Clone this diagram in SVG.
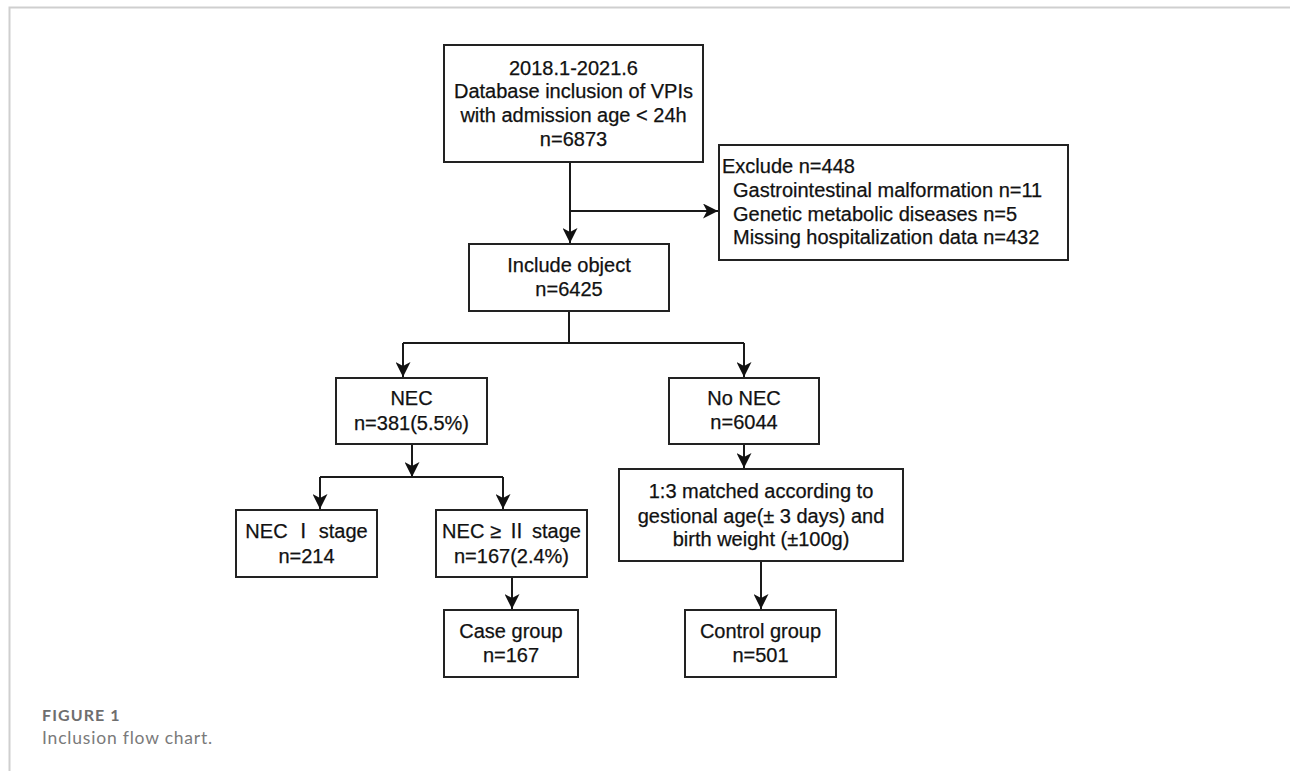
<svg xmlns="http://www.w3.org/2000/svg" width="1290" height="771" viewBox="0 0 1290 771">
<defs>
<style>
.box{fill:#fff;stroke:#222;stroke-width:2}
.t{font-family:"Liberation Sans","Noto Sans CJK SC",Arial,sans-serif;font-size:20px;fill:#111;stroke:#111;stroke-width:0.25;text-anchor:middle}
.tl{font-family:"Liberation Sans","Noto Sans CJK SC",Arial,sans-serif;font-size:20px;fill:#111;stroke:#111;stroke-width:0.25}
.ln{fill:none;stroke:#1a1a1a;stroke-width:2}
.frame{fill:none;stroke:#cfcfcf;stroke-width:2}
.cap1{font-family:Lato,"Open Sans",sans-serif;font-size:16px;font-weight:bold;fill:#6e6e6e;letter-spacing:1.1px}
.cap2{font-family:Lato,"Open Sans",sans-serif;font-size:17.5px;fill:#7a7a7a;letter-spacing:0.8px}
</style>
<marker id="arr" markerWidth="15" markerHeight="15" refX="15" refY="7.5" orient="auto" markerUnits="userSpaceOnUse">
<path d="M0,0 L15,7.5 L0,15 L4,7.5 z" fill="#111"/>
</marker>
</defs>
<rect width="1290" height="771" fill="#fff"/>
<path class="frame" d="M9.5,771 L9.5,7.5 L1290,7.5"/>

<g id="connectors">
<path class="ln" d="M570,162 L570,243" marker-end="url(#arr)"/>
<path class="ln" d="M570,211 L718,211" marker-end="url(#arr)"/>
<path class="ln" d="M569,311 L569,343"/>
<path class="ln" d="M403,343 L744,343"/>
<path class="ln" d="M403,343 L403,377" marker-end="url(#arr)"/>
<path class="ln" d="M744,343 L744,377" marker-end="url(#arr)"/>
<path class="ln" d="M412,444 L412,477" marker-end="url(#arr)"/>
<path class="ln" d="M320,477 L503,477"/>
<path class="ln" d="M320,477 L320,509" marker-end="url(#arr)"/>
<path class="ln" d="M503,477 L503,509" marker-end="url(#arr)"/>
<path class="ln" d="M512,577 L512,609" marker-end="url(#arr)"/>
<path class="ln" d="M744,444 L744,468" marker-end="url(#arr)"/>
<path class="ln" d="M761,561 L761,609" marker-end="url(#arr)"/>
</g>

<g id="n-source">
<rect class="box" x="444" y="45" width="259" height="117"/>
<text class="t" x="573.5" y="75">2018.1-2021.6</text>
<text class="t" x="573.5" y="98">Database inclusion of VPIs</text>
<text class="t" x="573.5" y="122">with admission age &lt; 24h</text>
<text class="t" x="573.5" y="146">n=6873</text>
</g>

<g id="n-exclude">
<rect class="box" x="719" y="145" width="349" height="115"/>
<text class="tl" x="722" y="173">Exclude n=448</text>
<text class="tl" x="733" y="197">Gastrointestinal malformation n=11</text>
<text class="tl" x="733" y="221">Genetic metabolic diseases n=5</text>
<text class="tl" x="733" y="244">Missing hospitalization data n=432</text>
</g>

<g id="n-include">
<rect class="box" x="469" y="244" width="200" height="67"/>
<text class="t" x="569" y="272">Include object</text>
<text class="t" x="569" y="296">n=6425</text>
</g>

<g id="n-nec">
<rect class="box" x="336" y="378" width="151" height="66"/>
<text class="t" x="411.5" y="405">NEC</text>
<text class="t" x="411.5" y="430">n=381(5.5%)</text>
</g>

<g id="n-nonec">
<rect class="box" x="669" y="378" width="150" height="66"/>
<text class="t" x="744" y="405">No NEC</text>
<text class="t" x="744" y="429">n=6044</text>
</g>

<g id="n-nec1">
<rect class="box" x="236" y="510" width="141" height="67"/>
<text class="t" x="306.5" y="538">NEC Ⅰ stage</text>
<text class="t" x="306.5" y="563">n=214</text>
</g>

<g id="n-nec2">
<rect class="box" x="436" y="510" width="151" height="67"/>
<text class="t" x="511.5" y="538">NEC ≥ Ⅱ stage</text>
<text class="t" x="511.5" y="563">n=167(2.4%)</text>
</g>

<g id="n-matched">
<rect class="box" x="619" y="469" width="284" height="92"/>
<text class="t" x="761" y="498">1:3 matched according to</text>
<text class="t" x="761" y="523">gestional age(± 3 days) and</text>
<text class="t" x="761" y="546">birth weight (±100g)</text>
</g>

<g id="n-case">
<rect class="box" x="444" y="610" width="134" height="67"/>
<text class="t" x="511" y="638">Case group</text>
<text class="t" x="511" y="662">n=167</text>
</g>

<g id="n-control">
<rect class="box" x="685" y="610" width="151" height="67"/>
<text class="t" x="760.5" y="638">Control group</text>
<text class="t" x="760.5" y="662">n=501</text>
</g>

<g id="caption">
<text class="cap1" x="42" y="721">FIGURE 1</text>
<text class="cap2" x="42" y="744">Inclusion flow chart.</text>
</g>
</svg>
